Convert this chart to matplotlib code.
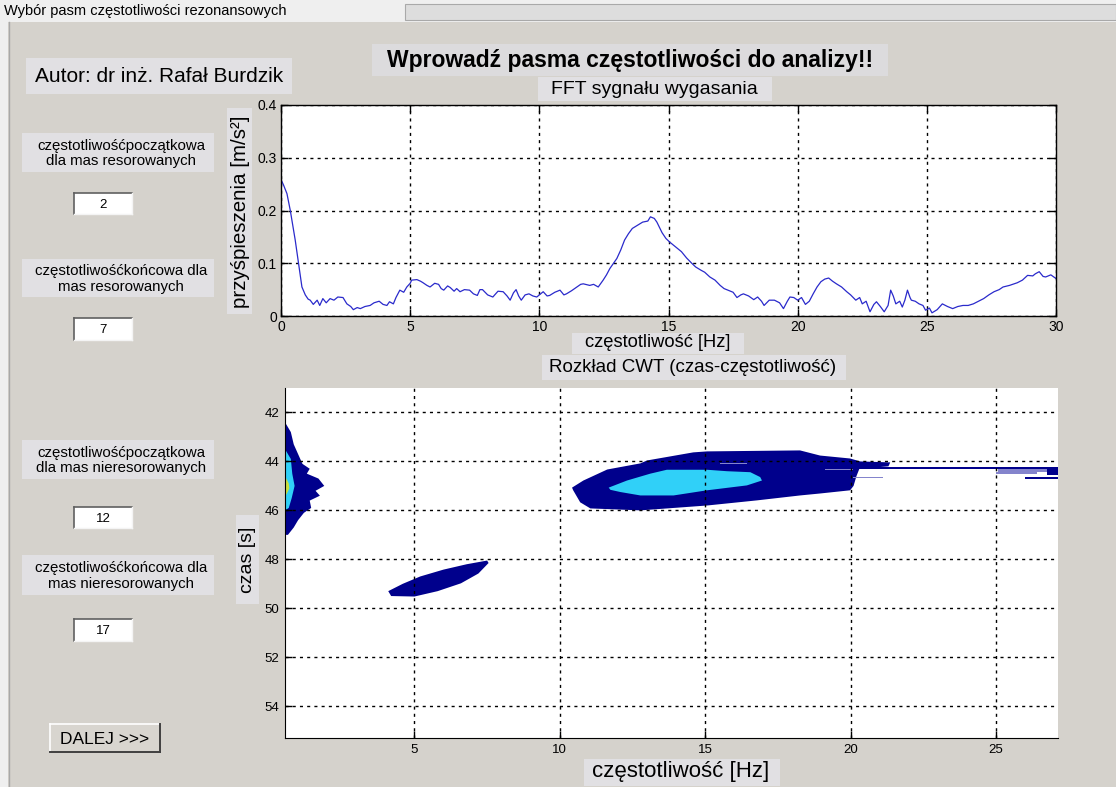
import matplotlib
matplotlib.use("Agg")
import matplotlib.pyplot as plt
from matplotlib.patches import Rectangle
from matplotlib.lines import Line2D

# ---------------- data ----------------
fft_freq = [0.00, 0.10, 0.23, 0.36, 0.55, 0.68, 0.81, 0.94, 1.05, 1.13, 1.25, 1.40, 1.50, 1.62, 1.75,
            1.90, 2.05, 2.20, 2.40, 2.55, 2.70, 2.80, 2.95, 3.07, 3.25, 3.45, 3.60, 3.80, 3.95, 4.10,
            4.20, 4.35, 4.45, 4.60, 4.75, 4.87, 5.00, 5.06, 5.26, 5.40, 5.50, 5.65, 5.77, 5.95, 6.10,
            6.20, 6.30, 6.45, 6.55, 6.70, 6.80, 6.93, 7.10, 7.30, 7.45, 7.60, 7.70, 7.80, 8.00, 8.20,
            8.40, 8.60, 8.75, 8.87, 9.00, 9.10, 9.20, 9.30, 9.45, 9.60, 9.75, 9.90, 10.05, 10.15, 10.30,
            10.40, 10.60, 10.80, 10.95, 11.05, 11.25, 11.45, 11.60, 11.70, 11.95, 12.10, 12.28, 12.47,
            12.60, 12.73, 13.00, 13.15, 13.30, 13.45, 13.60, 13.80, 14.00, 14.20, 14.30, 14.45, 14.55,
            14.64, 14.75, 14.90, 15.05, 15.20, 15.35, 15.50, 15.70, 15.90, 16.05, 16.25, 16.40, 16.60,
            16.80, 17.00, 17.15, 17.30, 17.50, 17.65, 17.80, 17.90, 18.10, 18.30, 18.45, 18.60, 18.70,
            18.90, 19.10, 19.30, 19.45, 19.60, 19.70, 19.85, 20.00, 20.15, 20.30, 20.45, 20.60, 20.75,
            20.90, 21.05, 21.20, 21.35, 21.50, 21.70, 21.90, 22.05, 22.25, 22.40, 22.50, 22.65, 22.80,
            22.95, 23.05, 23.20, 23.35, 23.50, 23.60, 23.70, 23.80, 23.95, 24.05, 24.15, 24.25, 24.35,
            24.40, 24.55, 24.70, 24.85, 24.95, 25.10, 25.20, 25.40, 25.60, 25.80, 26.00, 26.20, 26.40,
            26.60, 26.80, 27.00, 27.20, 27.40, 27.60, 27.80, 27.95, 28.20, 28.50, 28.70, 28.90, 29.10,
            29.20, 29.35, 29.50, 29.60, 29.80, 30.00]
fft_amp = [0.259, 0.248, 0.232, 0.200, 0.144, 0.100, 0.055, 0.040, 0.032, 0.030, 0.022, 0.030, 0.020,
           0.033, 0.025, 0.033, 0.030, 0.036, 0.035, 0.023, 0.018, 0.012, 0.016, 0.014, 0.018, 0.020,
           0.025, 0.028, 0.022, 0.020, 0.027, 0.023, 0.035, 0.049, 0.045, 0.055, 0.062, 0.068, 0.069,
           0.066, 0.063, 0.058, 0.055, 0.062, 0.060, 0.052, 0.049, 0.057, 0.054, 0.047, 0.052, 0.046,
           0.050, 0.049, 0.042, 0.039, 0.050, 0.050, 0.040, 0.036, 0.047, 0.046, 0.038, 0.030, 0.044,
           0.050, 0.038, 0.030, 0.040, 0.042, 0.038, 0.036, 0.042, 0.046, 0.038, 0.039, 0.045, 0.049,
           0.040, 0.042, 0.048, 0.055, 0.060, 0.061, 0.058, 0.060, 0.055, 0.068, 0.078, 0.090, 0.109,
           0.125, 0.144, 0.156, 0.166, 0.172, 0.178, 0.180, 0.188, 0.185, 0.178, 0.169, 0.158, 0.147,
           0.140, 0.134, 0.128, 0.122, 0.110, 0.100, 0.093, 0.087, 0.083, 0.074, 0.068, 0.058, 0.052,
           0.049, 0.045, 0.035, 0.040, 0.042, 0.038, 0.031, 0.036, 0.028, 0.020, 0.030, 0.030, 0.025,
           0.014, 0.028, 0.036, 0.035, 0.030, 0.035, 0.022, 0.028, 0.042, 0.055, 0.065, 0.070, 0.072,
           0.066, 0.061, 0.055, 0.046, 0.040, 0.030, 0.035, 0.023, 0.028, 0.008, 0.022, 0.027, 0.018,
           0.008, 0.020, 0.049, 0.038, 0.023, 0.028, 0.017, 0.030, 0.049, 0.035, 0.030, 0.028, 0.023,
           0.020, 0.011, 0.015, 0.006, 0.012, 0.023, 0.018, 0.014, 0.018, 0.020, 0.020, 0.023, 0.028,
           0.033, 0.040, 0.046, 0.050, 0.055, 0.058, 0.063, 0.068, 0.077, 0.076, 0.080, 0.084, 0.075,
           0.074, 0.078, 0.071]

fft_xticks = [0, 5, 10, 15, 20, 25, 30]
fft_yticks = [0, 0.1, 0.2, 0.3, 0.4]
fft_yticklabels = ["0", "0.1", "0.2", "0.3", "0.4"]
cwt_xticks = [5, 10, 15, 20, 25]
cwt_yticks = [42, 44, 46, 48, 50, 52, 54]

# CWT regions: outlines (frequency Hz, time s)
cwt_low_freq = [0.55, 0.75, 0.85, 1.00, 1.15, 1.40, 1.30, 1.70, 1.90, 1.60, 1.75, 1.40, 1.45, 1.20, 1.00, 0.85, 0.65, 0.55]
cwt_low_time = [42.4, 42.8, 43.3, 43.7, 44.1, 44.3, 44.5, 44.7, 45.0, 45.2, 45.4, 45.6, 45.9, 46.1, 46.4, 46.7, 47.0, 47.0]
cwt_low_mid_freq = [0.55, 0.75, 0.80, 0.88, 0.78, 0.68, 0.55]
cwt_low_mid_time = [43.5, 43.9, 44.5, 45.0, 45.5, 45.9, 46.0]
cwt_low_peak_freq = [0.55, 0.68, 0.70, 0.60, 0.55]
cwt_low_peak_time = [44.6, 44.9, 45.1, 45.35, 45.35]

cwt_main_freq = [10.42, 10.81, 11.63, 12.77, 13.00, 14.59, 15.07, 18.26, 18.95, 19.98, 20.33, 21.36,
                 21.30, 20.30, 20.20, 20.10, 19.98, 18.95, 18.26, 16.79, 15.07, 12.77, 11.05, 10.70, 10.46]
cwt_main_time = [45.07, 44.78, 44.33, 44.08, 43.96, 43.63, 43.59, 43.55, 43.76, 43.88, 44.00, 44.04,
                 44.20, 44.30, 44.60, 45.00, 45.18, 45.31, 45.39, 45.59, 45.80, 46.00, 45.92, 45.67, 45.18]
cwt_main_mid_freq = [11.68, 12.31, 13.11, 13.68, 15.06, 15.75, 16.55, 16.89, 16.95, 16.43, 15.06, 13.91, 12.77, 12.08, 11.74]
cwt_main_mid_time = [45.07, 44.78, 44.50, 44.34, 44.34, 44.40, 44.44, 44.64, 44.78, 44.98, 45.18, 45.39, 45.39, 45.25, 45.16]

cwt_line_freq = [20.26, 27.13, 27.13, 20.26]
cwt_line_time = [44.22, 44.22, 44.30, 44.30]
cwt_end_freq = [26.75, 27.13, 27.13, 26.75]
cwt_end_time = [44.24, 44.24, 44.57, 44.57]
cwt_end_low_freq = [26.0, 27.13, 27.13, 26.0]
cwt_end_low_time = [44.65, 44.65, 44.73, 44.73]
cwt_edge_streaks = [  # (f0, f1, t0, t1) light-level streaks
    (25.07, 26.75, 44.30, 44.45),
    (25.00, 26.40, 44.45, 44.53),
    (19.12, 20.09, 44.30, 44.37),
    (20.09, 21.12, 44.62, 44.68),
    (15.50, 16.44, 44.05, 44.11),
]

cwt_small_freq = [7.50, 6.80, 6.00, 5.20, 4.60, 4.10, 4.20, 5.00, 5.80, 6.60, 7.20, 7.55]
cwt_small_time = [48.05, 48.20, 48.42, 48.70, 49.00, 49.30, 49.50, 49.52, 49.30, 48.98, 48.58, 48.15]

edit_values = ["2", "7", "12", "17"]

# ---------------- figure ----------------
W, H = 1116, 787
plt.rcParams['font.family'] = ['Liberation Sans', 'DejaVu Sans']

fig = plt.figure(figsize=(W / 100, H / 100), dpi=100)
fig.patch.set_facecolor('#efefef')

BG = '#d5d2cc'
BOX = '#e1e0e3'
NAVY = '#00008c'
CYAN = '#30d0f8'
LAV = '#8484cc'


def fx(px):
    return px / W


def fy(py):
    return 1 - py / H


def rect(x0, y0, x1, y1, fc, ec='none', lw=0.0, z=0):
    r = Rectangle((fx(x0), fy(y1)), fx(x1) - fx(x0), fy(y0) - fy(y1),
                  transform=fig.transFigure, facecolor=fc, edgecolor=ec,
                  linewidth=lw, zorder=z)
    fig.add_artist(r)


def line(x0, y0, x1, y1, c, lw=1.0, z=1):
    fig.add_artist(Line2D([fx(x0), fx(x1)], [fy(y0), fy(y1)], transform=fig.transFigure,
                          color=c, linewidth=lw, zorder=z))


def txt(x, y, s, size, ha='center', va='center', weight='normal', rot=0, z=3, ls=1.2):
    fig.text(fx(x), fy(y), s, fontsize=size, ha=ha, va=va, fontweight=weight,
             rotation=rot, zorder=z, color='black', linespacing=ls)


# window chrome
rect(8, 22, W, H, BG)
line(9, 22, 9, H, '#a8a8a8', 1.0)
rect(405, 4, W, 20, '#dddddd', ec='#a9a9a9', lw=0.8)
txt(4, 11, "Wybór pasm częstotliwości rezonansowych", 10.5, ha='left')

# text boxes
rect(372, 44, 888, 76, '#dcdbdd')
txt(630, 60, "Wprowadź pasma częstotliwości do analizy!!", 16.5, weight='bold')
rect(26, 58, 292, 94, BOX)
txt(35, 77, "Autor: dr inż. Rafał Burdzik", 15.0, ha='left')

labels = [
    (133, 172, "częstotliwośćpoczątkowa\ndla mas resorowanych"),
    (259, 297, "częstotliwośćkońcowa dla\nmas resorowanych"),
    (440, 479, "częstotliwośćpoczątkowa\ndla mas nieresorowanych"),
    (555, 595, "częstotliwośćkońcowa dla\nmas nieresorowanych"),
]
for y0, y1, s in labels:
    rect(22, y0, 214, y1, BOX)
    txt(121, (y0 + y1) / 2 + 1, s, 10.8, ls=1.1)

edit_rows = [(193, 214), (318, 340), (507, 528), (619, 641)]
for (y0, y1), v in zip(edit_rows, edit_values):
    rect(74, y0, 132, y1, 'white')
    line(74, y0, 132, y0, '#606060', 1.2, 2)
    line(74, y0, 74, y1, '#606060', 1.2, 2)
    line(74, y1, 132, y1, '#f4f4f4', 1.0, 2)
    line(132, y0, 132, y1, '#f4f4f4', 1.0, 2)
    txt(103, (y0 + y1) / 2 + 1, v, 9.5)

# DALEJ button
rect(50, 724, 160, 752, '#d8d5cf')
line(50, 724, 160, 724, '#ffffff', 1.2, 2)
line(50, 724, 50, 752, '#ffffff', 1.2, 2)
line(50, 752, 160, 752, '#404040', 1.4, 2)
line(160, 724, 160, 752, '#404040', 1.4, 2)
txt(105, 739, "DALEJ >>>", 12.5)

# axis-title boxes
rect(538, 77, 772, 101, BOX)
txt(654, 89, "FFT sygnału wygasania", 14.0)
rect(572, 333, 744, 354, BOX)
txt(658, 343, "częstotliwość [Hz]", 13.2)
rect(227, 108, 252, 314, BOX)
txt(240, 212, "przyśpieszenia [m/s²]", 14.8, rot=90)

rect(542, 355, 846, 380, BOX)
txt(693, 367, "Rozkład CWT (czas-częstotliwość)", 13.5)
rect(584, 759, 780, 786, BOX)
txt(681, 772, "częstotliwość [Hz]", 16.0)
rect(236, 515, 259, 604, BOX)
txt(247, 560, "czas [s]", 14.0, rot=90)

grid_kw = dict(color='black', linestyle=(0, (2.2, 3.0)), linewidth=1.0)

# ---------------- FFT axes ----------------
ax1 = fig.add_axes([fx(281), fy(316), fx(1056) - fx(281), fy(105) - fy(316)])
ax1.set_facecolor('white')
ax1.plot(fft_freq, fft_amp, color='#2a2acb', linewidth=0.9)
ax1.set_xlim(0, 30)
ax1.set_ylim(0, 0.4)
ax1.set_xticks(fft_xticks)
ax1.set_yticks(fft_yticks)
ax1.set_yticklabels(fft_yticklabels)
ax1.grid(True, **grid_kw)
ax1.tick_params(direction='in', length=5, width=1, labelsize=10, top=True, right=True, pad=3)
for sp in ax1.spines.values():
    sp.set_linewidth(1.0)

# ---------------- CWT axes ----------------
ax2 = fig.add_axes([fx(285), fy(738), fx(1058) - fx(285), fy(388) - fy(738)])
ax2.set_facecolor('white')
ax2.fill(cwt_low_freq, cwt_low_time, color=NAVY, lw=0)
ax2.fill(cwt_low_mid_freq, cwt_low_mid_time, color=CYAN, lw=0)
ax2.fill(cwt_low_peak_freq, cwt_low_peak_time, color='#c8e040', lw=0)
ax2.fill(cwt_main_freq, cwt_main_time, color=NAVY, lw=0)
ax2.fill(cwt_main_mid_freq, cwt_main_mid_time, color=CYAN, lw=0)
ax2.fill(cwt_line_freq, cwt_line_time, color=NAVY, lw=0)
for f0, f1, t0, t1 in cwt_edge_streaks:
    ax2.fill([f0, f1, f1, f0], [t0, t0, t1, t1], color=LAV, lw=0)
ax2.fill(cwt_end_freq, cwt_end_time, color=NAVY, lw=0)
ax2.fill(cwt_end_low_freq, cwt_end_low_time, color=NAVY, lw=0)
ax2.fill(cwt_small_freq, cwt_small_time, color=NAVY, lw=0)
ax2.set_xlim(0.55, 27.13)
ax2.set_ylim(55.3, 41.0)
ax2.set_xticks(cwt_xticks)
ax2.set_yticks(cwt_yticks)
ax2.set_axisbelow(False)
ax2.grid(True, **grid_kw)
ax2.spines['top'].set_visible(False)
ax2.spines['right'].set_visible(False)
ax2.tick_params(direction='in', length=5, width=1, labelsize=9.5, pad=4)

fig.savefig("out.png", dpi=100, facecolor=fig.get_facecolor())
